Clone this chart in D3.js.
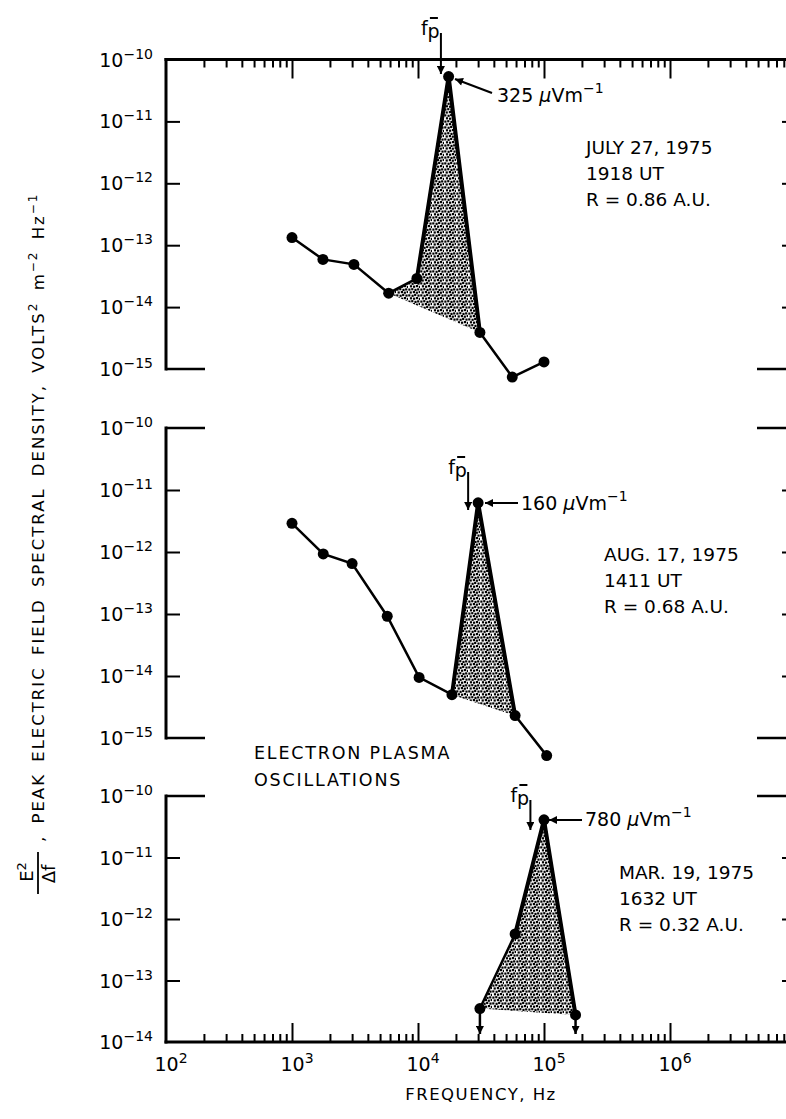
<!DOCTYPE html>
<html>
<head>
<meta charset="utf-8">
<script src="https://cdn.jsdelivr.net/npm/d3@7"></script>
<style>
  body { margin: 0; background: #fff; }
  svg { display: block; font-family: "DejaVu Sans", "Liberation Sans", sans-serif; }
</style>
</head>
<body>
<svg id="chart" width="786" height="1119"></svg>
<script>
// ---- Data: peak spectral density (V^2 m^-2 Hz^-1) per filter channel (Hz) ----
const julyFreq = [1.0e3, 1.76e3, 3.1e3, 5.85e3, 9.8e3, 1.75e4, 3.1e4, 5.6e4, 1.0e5];
const julyPsd  = [1.33e-13, 5.9e-14, 4.9e-14, 1.68e-14, 2.9e-14, 5.3e-11, 3.9e-15, 7.4e-16, 1.3e-15];
const julyShade = [3, 4, 5, 6];           // indices bounding the stippled burst
const julyInfo = ["JULY 27, 1975", "1918 UT", "R = 0.86 A.U."];
const julyFp = 1.52e4;
const julyField = "325";

const augFreq = [1.0e3, 1.77e3, 3.0e3, 5.7e3, 1.02e4, 1.86e4, 3.0e4, 5.9e4, 1.05e5];
const augPsd  = [2.9e-12, 9.3e-13, 6.5e-13, 9.2e-14, 9.5e-15, 5.0e-15, 6.2e-12, 2.3e-15, 5.2e-16];
const augShade = [5, 6, 7];
const augInfo = ["AUG. 17, 1975", "1411 UT", "R = 0.68 A.U."];
const augFp = 2.5e4;
const augField = "160";

const marFreq = [3.1e4, 5.9e4, 1.0e5, 1.78e5];
const marPsd  = [3.5e-14, 5.7e-13, 4.1e-11, 2.75e-14];
const marUpperLimit = [true, false, false, true];
const marShade = [0, 1, 2, 3];
const marInfo = ["MAR. 19, 1975", "1632 UT", "R = 0.32 A.U."];
const marFp = 7.8e4;
const marField = "780";

// Axis tick labels
const xDecades = [1e2, 1e3, 1e4, 1e5, 1e6];
const xDecadeExp = ["2", "3", "4", "5", "6"];
const yDecadesFull = [1e-10, 1e-11, 1e-12, 1e-13, 1e-14, 1e-15];
const yDecadesShort = [1e-10, 1e-11, 1e-12, 1e-13, 1e-14];

const svg = d3.select("#chart");
const defs = svg.append("defs");

// stipple texture for the burst areas: one 12x12 tile of slightly staggered dots
const stippleDots = [[0.3,0.5],[3.2,0.1],[6.4,0.8],[9.1,0.3],[1.6,3.4],[4.8,3.0],[7.7,3.6],[10.6,2.9],
                     [0.2,6.3],[3.5,6.7],[6.1,5.9],[9.4,6.5],[1.9,9.2],[5.0,9.6],[7.9,9.0],[10.8,9.8]];
const pat = defs.append("pattern").attr("id", "stipple")
  .attr("patternUnits", "userSpaceOnUse").attr("width", 12).attr("height", 12);
pat.selectAll("rect").data(stippleDots).join("rect")
  .attr("x", d => d[0]).attr("y", d => d[1]).attr("width", 2.2).attr("height", 2.2).attr("fill", "#000");

defs.append("marker").attr("id", "head").attr("viewBox", "0 0 10 10")
  .attr("refX", 10).attr("refY", 5).attr("markerWidth", 11).attr("markerHeight", 8)
  .attr("markerUnits", "userSpaceOnUse").attr("orient", "auto")
  .append("path").attr("d", "M0,0 L10,5 L0,10 Z").attr("fill", "#000");

const x = d3.scaleLog().domain([1e2, 1e7]).range([166, 796]);
const xLeft = x(1e2), xRight = x(1e7);
const stub = 39, tickLen = 14;

const panels = [
  { freq: julyFreq, psd: julyPsd, shade: julyShade, info: julyInfo, fp: julyFp, field: julyField,
    domain: [1e-15, 1e-10], range: [369, 59.5], labels: yDecadesFull, frame: "top",
    infoPos: [586, 154], fpTip: 74, fpLen: 41,
    fieldText: [497, 102], fieldArrow: [[492, 93], [455, 79]] },
  { freq: augFreq, psd: augPsd, shade: augShade, info: augInfo, fp: augFp, field: augField,
    domain: [1e-15, 1e-10], range: [738, 428], labels: yDecadesFull, frame: "none",
    infoPos: [604, 561], fpTip: 510, fpLen: 38,
    fieldText: [521, 510], fieldArrow: [[518, 503], [485, 503]] },
  { freq: marFreq, psd: marPsd, shade: marShade, info: marInfo, fp: marFp, field: marField,
    domain: [1e-14, 1e-10], range: [1042, 796], labels: yDecadesShort, frame: "bottom",
    infoPos: [619, 879], fpTip: 830, fpLen: 30,
    fieldText: [585, 826], fieldArrow: [[582, 820], [549, 820]], upper: marUpperLimit }
];

// full-width frequency axis with long decade ticks and short 2..9 ticks
function freqAxis(yPos, inward) {
  const ga = svg.append("g");
  ga.append("line").attr("x1", xLeft - 1.5).attr("x2", xRight).attr("y1", yPos).attr("y2", yPos)
    .attr("stroke", "#000").attr("stroke-width", 3);
  const minor = x.ticks().filter(v => xDecades.indexOf(v) < 0 && v < 1e7);
  const major = [1e3, 1e4, 1e5, 1e6, 1e7];
  const mk = inward > 0 ? d3.axisBottom : d3.axisTop;
  ga.append("g").attr("transform", `translate(0,${yPos})`)
    .call(mk(x).tickValues(major).tickSizeInner(19).tickSizeOuter(0).tickFormat(""))
    .call(a => a.select(".domain").remove())
    .call(a => a.selectAll(".tick line").attr("stroke", "#000").attr("stroke-width", 2));
  ga.append("g").attr("transform", `translate(0,${yPos})`)
    .call(mk(x).tickValues(minor).tickSizeInner(8).tickSizeOuter(0).tickFormat(""))
    .call(a => a.select(".domain").remove())
    .call(a => a.selectAll(".tick line").attr("stroke", "#000").attr("stroke-width", 2));
}

panels.forEach(p => {
  const y = d3.scaleLog().domain(p.domain).range(p.range);
  const yTop = p.range[1], yBot = p.range[0];
  const g = svg.append("g");

  // --- frame: left axis, corner stubs, right-hand ticks ---
  g.append("line").attr("x1", xLeft).attr("x2", xLeft).attr("y1", yTop - 1.5).attr("y2", yBot + 1.5)
    .attr("stroke", "#000").attr("stroke-width", 3);
  const innerTicks = p.labels.filter(v => v < p.domain[1] && v > p.domain[0]);
  g.append("g").attr("transform", `translate(${xLeft},0)`)
    .call(d3.axisLeft(y).tickValues(innerTicks).tickSizeInner(-tickLen).tickSizeOuter(0).tickFormat(""))
    .call(a => a.select(".domain").remove())
    .call(a => a.selectAll(".tick line").attr("stroke-width", 2));
  g.append("g").attr("transform", `translate(${xRight},0)`)
    .call(d3.axisRight(y).tickValues(innerTicks).tickSizeInner(-tickLen).tickSizeOuter(0).tickFormat(""))
    .call(a => a.select(".domain").remove())
    .call(a => a.selectAll(".tick line").attr("stroke-width", 2));
  const stubs = [];
  if (p.frame !== "top") stubs.push(yTop);
  if (p.frame !== "bottom") stubs.push(yBot);
  stubs.forEach(s => {
    g.append("line").attr("x1", xLeft).attr("x2", xLeft + stub).attr("y1", s).attr("y2", s)
      .attr("stroke", "#000").attr("stroke-width", 2.5);
    g.append("line").attr("x1", xRight - stub).attr("x2", xRight).attr("y1", s).attr("y2", s)
      .attr("stroke", "#000").attr("stroke-width", 2.5);
  });

  // y tick labels 10^n
  p.labels.forEach(v => {
    const t = g.append("text").attr("x", 153).attr("y", y(v) + 7)
      .attr("text-anchor", "end").attr("font-size", 19);
    t.append("tspan").text("10");
    t.append("tspan").attr("dy", -8).attr("font-size", 14).text(String(Math.round(Math.log10(v))).replace("-", "\u2212"));
  });

  // --- stippled burst area ---
  const shadePts = p.shade.map(i => [x(p.freq[i]), y(p.psd[i])]);
  g.append("path").attr("d", "M" + shadePts.join("L") + "Z").attr("fill", "url(#stipple)").attr("stroke", "none");

  // --- connecting line ---
  const line = d3.line().x(d => x(d[0])).y(d => y(d[1]));
  const pts = p.freq.map((f, i) => [f, p.psd[i]]);
  g.append("path").attr("d", line(pts)).attr("fill", "none").attr("stroke", "#000").attr("stroke-width", 2.5);
  // heavier edges of the burst
  const peakIdx = p.psd.indexOf(d3.max(p.psd));
  const edge = p.shade.filter(i => Math.abs(i - peakIdx) <= 1).map(i => pts[i]);
  g.append("path").attr("d", line(edge)).attr("fill", "none").attr("stroke", "#000").attr("stroke-width", 4);

  // upper-limit arrows
  if (p.upper) {
    p.upper.forEach((u, i) => {
      if (!u) return;
      g.append("line").attr("x1", x(p.freq[i])).attr("x2", x(p.freq[i]))
        .attr("y1", y(p.psd[i])).attr("y2", yBot - 8)
        .attr("stroke", "#000").attr("stroke-width", 2.5).attr("marker-end", "url(#head)");
    });
  }

  // points
  g.selectAll("circle.pt").data(pts).join("circle")
    .attr("cx", d => x(d[0])).attr("cy", d => y(d[1])).attr("r", 5.5).attr("fill", "#000");

  // --- plasma frequency marker ---
  const fx = x(p.fp);
  g.append("line").attr("x1", fx).attr("x2", fx).attr("y1", p.fpTip - p.fpLen).attr("y2", p.fpTip)
    .attr("stroke", "#000").attr("stroke-width", 2).attr("marker-end", "url(#head)");
  const fl = g.append("text").attr("x", fx - 20).attr("y", p.fpTip - p.fpLen + 2).attr("font-size", 19);
  fl.append("tspan").text("f");
  fl.append("tspan").attr("dy", 3).text("p");
  g.append("line").attr("x1", fx - 11).attr("x2", fx - 3)
    .attr("y1", p.fpTip - p.fpLen - 15).attr("y2", p.fpTip - p.fpLen - 15)
    .attr("stroke", "#000").attr("stroke-width", 2);

  // --- peak field amplitude ---
  g.append("line").attr("x1", p.fieldArrow[0][0]).attr("y1", p.fieldArrow[0][1])
    .attr("x2", p.fieldArrow[1][0]).attr("y2", p.fieldArrow[1][1])
    .attr("stroke", "#000").attr("stroke-width", 2.2).attr("marker-end", "url(#head)");
  const ft = g.append("text").attr("x", p.fieldText[0]).attr("y", p.fieldText[1]).attr("font-size", 19);
  ft.append("tspan").text(p.field + " ");
  ft.append("tspan").attr("font-style", "italic").text("\u03bc");
  ft.append("tspan").text("Vm");
  ft.append("tspan").attr("dy", -9).attr("font-size", 14).text("\u22121");

  // --- observation info ---
  g.append("g").selectAll("text").data(p.info).join("text")
    .attr("x", p.infoPos[0]).attr("y", (d, i) => p.infoPos[1] + i * 26)
    .attr("font-size", 18.5).text(d => d);
});

// frequency axes: along the top of the first panel and the bottom of the last
freqAxis(panels[0].range[1], 1);
freqAxis(panels[2].range[0], -1);

// frequency labels under the bottom panel
const xl = svg.append("g");
xDecades.forEach((v, i) => {
  const t = xl.append("text").attr("x", x(v) + 5).attr("y", 1071).attr("text-anchor", "middle").attr("font-size", 19);
  t.append("tspan").text("10");
  t.append("tspan").attr("dy", -8).attr("font-size", 14).text(xDecadeExp[i]);
});
svg.append("text").attr("x", 481).attr("y", 1100).attr("text-anchor", "middle")
  .attr("font-size", 16.5).attr("letter-spacing", 1.5).text("FREQUENCY, Hz");

// caption between panels
svg.append("g").selectAll("text").data(["ELECTRON PLASMA", "OSCILLATIONS"]).join("text")
  .attr("x", 254).attr("y", (d, i) => 759 + i * 27)
  .attr("font-size", 17.5).attr("letter-spacing", 1.8).text(d => d);

// y-axis title (rotated)
const yt = svg.append("g").attr("transform", "rotate(-90)");
const num = yt.append("text").attr("x", -872).attr("y", 33).attr("text-anchor", "middle").attr("font-size", 18);
num.append("tspan").text("E");
num.append("tspan").attr("dy", -7).attr("font-size", 13).text("2");
yt.append("line").attr("x1", -894).attr("x2", -852).attr("y1", 38).attr("y2", 38)
  .attr("stroke", "#000").attr("stroke-width", 1.8);
yt.append("text").attr("x", -874).attr("y", 55).attr("text-anchor", "middle").attr("font-size", 18).text("\u0394f");
const tt = yt.append("text").attr("x", -842).attr("y", 44).attr("font-size", 16.5)
  .attr("letter-spacing", 2).attr("word-spacing", 4);
tt.append("tspan").text(", PEAK ELECTRIC FIELD SPECTRAL DENSITY, VOLTS");
tt.append("tspan").attr("dy", -7).attr("font-size", 12).text("2");
tt.append("tspan").attr("dy", 7).text(" m");
tt.append("tspan").attr("dy", -7).attr("font-size", 12).text("\u22122");
tt.append("tspan").attr("dy", 7).text(" Hz");
tt.append("tspan").attr("dy", -7).attr("font-size", 12).text("\u22121");
</script>
</body>
</html>
